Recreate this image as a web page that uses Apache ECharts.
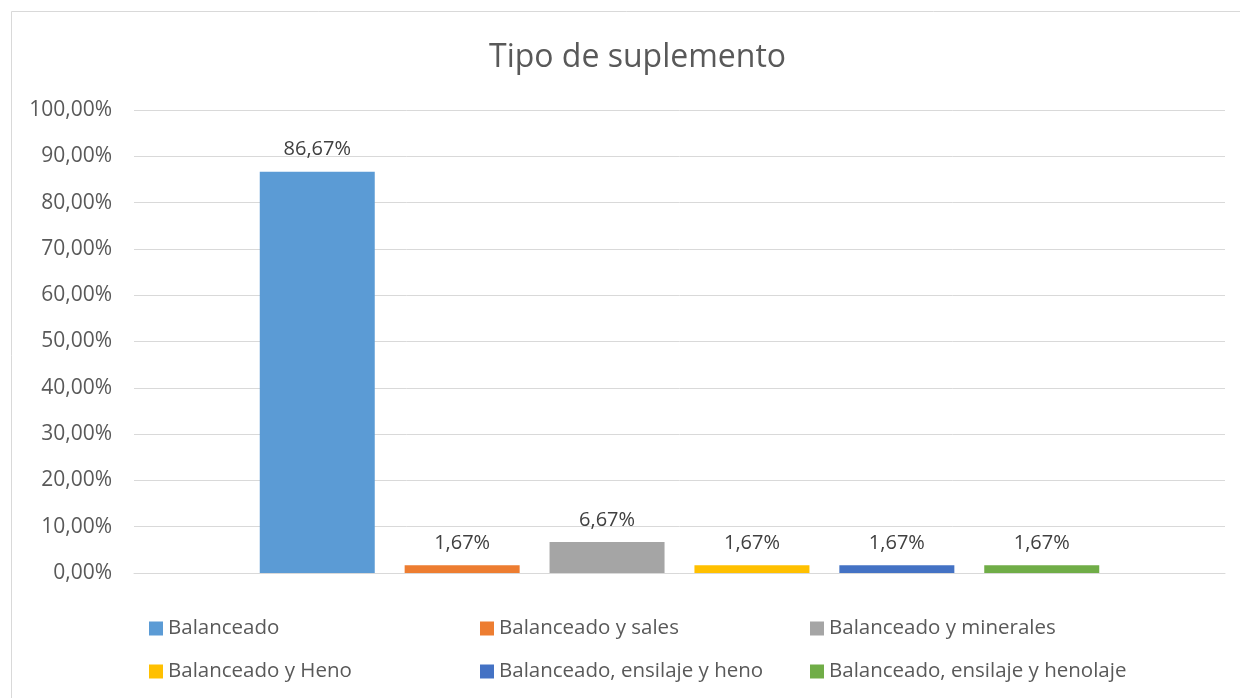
<!DOCTYPE html>
<html>
	<head>
		<title>Tipo de suplemento</title>
        <meta charset="utf-8">
        <script src="https://cdn.jsdelivr.net/npm/echarts@6/dist/echarts.min.js"></script>
	</head>
	<body style="margin:0;">
        <div id="main" style="width: 1240px; height:698px;"></div>
	</body>
</html>

<script type="text/javascript">
    var categories = ['Tipo de suplemento'];
    var seriesNames = ['Balanceado', 'Balanceado y sales', 'Balanceado y minerales',
                       'Balanceado y Heno', 'Balanceado, ensilaje y heno', 'Balanceado, ensilaje y henolaje'];
    var seriesValues = [86.67, 1.67, 6.67, 1.67, 1.67, 1.67];
    var colors = ['#5B9BD5', '#ED7D31', '#A5A5A5', '#FFC000', '#4472C4', '#70AD47'];

    var fontFam = '"Open Sans", "Noto Sans", sans-serif';

    function pct(v) {
        return v.toFixed(2).replace('.', ',') + '%';
    }

    // legend: 2 rows x 3 columns
    var legendPos = [[144, 613], [475, 613], [805, 613], [144, 656], [475, 656], [805, 656]];
    var legends = seriesNames.map(function(n, i) {
        return {
            data: [n],
            left: legendPos[i][0],
            top: legendPos[i][1],
            itemWidth: 14,
            itemHeight: 14,
            itemGap: 0,
            icon: 'rect',
            textStyle: { color: '#595959', fontSize: 20.5, fontFamily: fontFam }
        };
    });

    var series = seriesNames.map(function(n, i) {
        return {
            name: n,
            type: 'bar',
            data: [seriesValues[i]],
            barWidth: 115,
            barGap: '26%',
            itemStyle: { color: colors[i] },
            label: {
                show: true,
                position: 'top',
                distance: 12,
                color: '#404040',
                fontSize: 20,
                fontFamily: fontFam,
                formatter: function(p) { return pct(p.value); }
            }
        };
    });

    var myChart = echarts.init(document.getElementById('main'));
    var option = {
        animation: false,
        backgroundColor: '#ffffff',
        title: {
            text: 'Tipo de suplemento',
            left: 484,
            top: 37,
            textStyle: { color: '#595959', fontSize: 32, fontWeight: 'normal', fontFamily: fontFam }
        },
        graphic: [{
            type: 'rect',
            shape: { x: 11.5, y: 11.5, width: 1240, height: 700 },
            style: { fill: 'none', stroke: '#d9d9d9', lineWidth: 1 },
            silent: true
        }],
        legend: legends,
        grid: { left: 134, right: 15, top: 110, bottom: 125 },
        xAxis: {
            type: 'category',
            data: categories,
            axisLine: { show: true, lineStyle: { color: '#d9d9d9', width: 1 } },
            axisTick: { show: false },
            axisLabel: { show: false }
        },
        yAxis: {
            type: 'value',
            min: 0,
            max: 100,
            interval: 10,
            axisLine: { show: false },
            axisTick: { show: false },
            splitLine: { lineStyle: { color: '#d9d9d9', width: 1 } },
            axisLabel: {
                color: '#595959',
                fontSize: 21,
                fontFamily: fontFam,
                margin: 22,
                formatter: function(v) { return pct(v); }
            }
        },
        series: series
    };
    myChart.setOption(option);
</script>
